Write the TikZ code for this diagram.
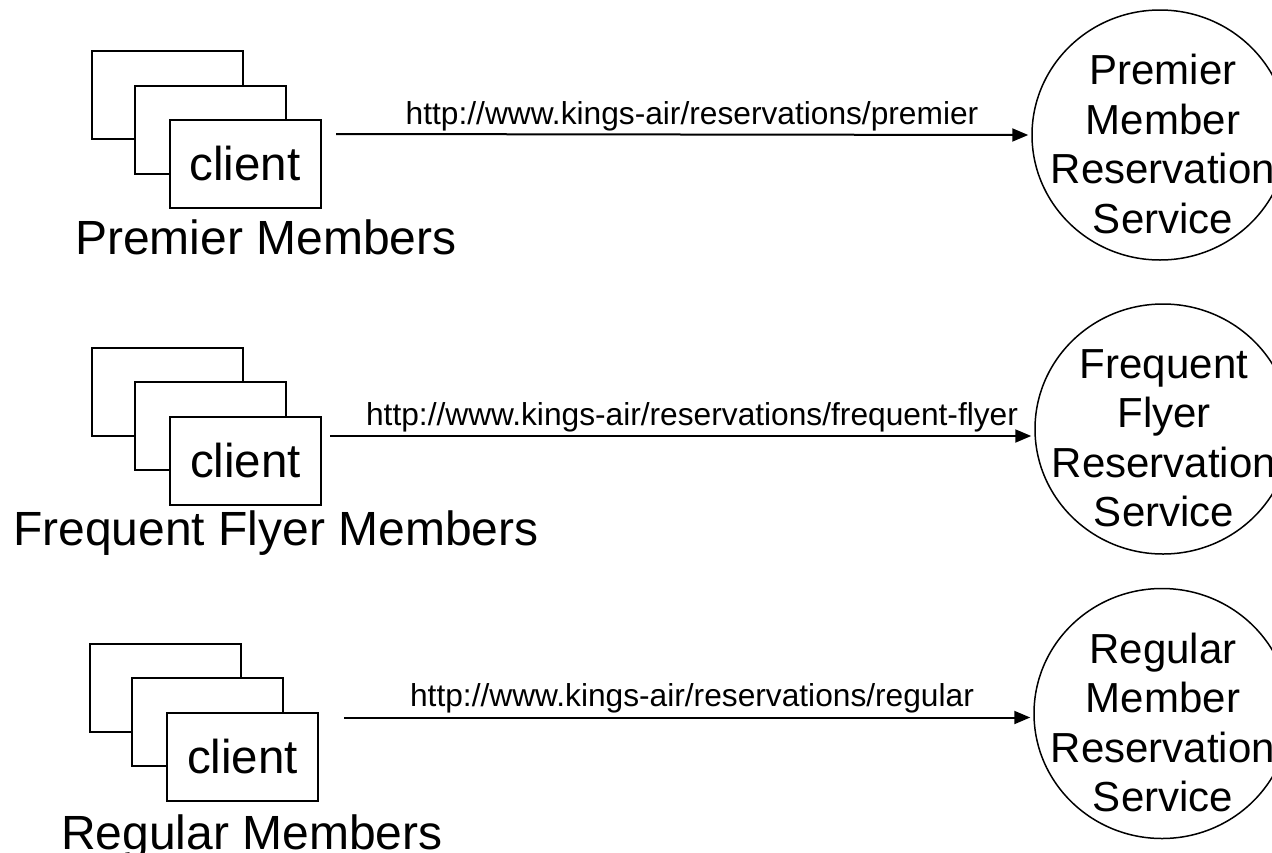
\documentclass[tikz,border=0pt]{standalone}
\usepackage{fontspec}
\setmainfont{Liberation Sans}
\usetikzlibrary{arrows.meta,shapes.geometric}

\tikzset{
  card/.style={draw, line width=2pt, fill=white, minimum width=151pt,
    minimum height=88pt, inner sep=0pt, font=\fontsize{47.5}{52}\selectfont},
  grouplabel/.style={anchor=base west, inner sep=0pt, font=\fontsize{48}{52}\selectfont},
  service/.style={ellipse, draw, line width=1.5pt, minimum width=256pt,
    minimum height=250pt, inner sep=0pt},
  servicetext/.style={align=center, inner sep=0pt, font=\fontsize{42}{49.5}\selectfont},
  url/.style={anchor=base, inner sep=0pt, font=\fontsize{31.7}{36}\selectfont},
  link/.style={line width=2pt, -{Triangle[length=16pt,width=13pt]}, shorten >=3pt},
}

\begin{document}
\begin{tikzpicture}[x=1pt,y=-1pt]
\path[use as bounding box, clip] (0,0) rectangle (1272,852);
\fill[white] (0,0) rectangle (1272,852);

% --- Premier members ---
\node[card] (c1a) at (167.5,95) {};
\node[card] (c1b) at (210.5,130) {};
\node[card] (c1)  at (245,164) {client};
\node[grouplabel] (g1) at (75,254) {Premier Members};

% --- Frequent flyer members ---
\node[card] (c2a) at (167.5,391.5) {};
\node[card] (c2b) at (210.5,426) {};
\node[card] (c2)  at (245.5,460.5) {client};
\node[grouplabel] (g2) at (13,545) {Frequent Flyer Members};

% --- Regular members ---
\node[card] (c3a) at (165,687.5) {};
\node[card] (c3b) at (207.5,722) {};
\node[card] (c3)  at (242.5,757) {client};
\node[grouplabel] (g3) at (61,849) {Regular Members};

% --- Reservation services ---
\node[service] (s1) at (1160,135) {};
\node[servicetext] (t1) at ([shift={(3,9)}]s1.center) {Premier\\Member\\Reservation\\Service};
\node[service] (s2) at (1163,429) {};
\node[servicetext] (t2) at ([shift={(1,9)}]s2.center) {Frequent\\Flyer\\Reservation\\Service};
\node[service] (s3) at (1162,713.5) {};
\node[servicetext] (t3) at ([shift={(1,9)}]s3.center) {Regular\\Member\\Reservation\\Service};

% --- Requests ---
\coordinate (p1) at (336,134);
\coordinate (p2) at (330,436);
\coordinate (p3) at (344,717.5);
\draw[link] (p1) -- (s1.west);
\draw[link] (p2) -- (p2 -| s2.west);
\draw[link] (p3) -- (p3 -| s3.west);
\node[url] (u1) at (692,124) {http://www.kings-air/reservations/premier};
\node[url] (u2) at (692,425) {http://www.kings-air/reservations/frequent-flyer};
\node[url] (u3) at (692,706) {http://www.kings-air/reservations/regular};
\end{tikzpicture}
\end{document}
